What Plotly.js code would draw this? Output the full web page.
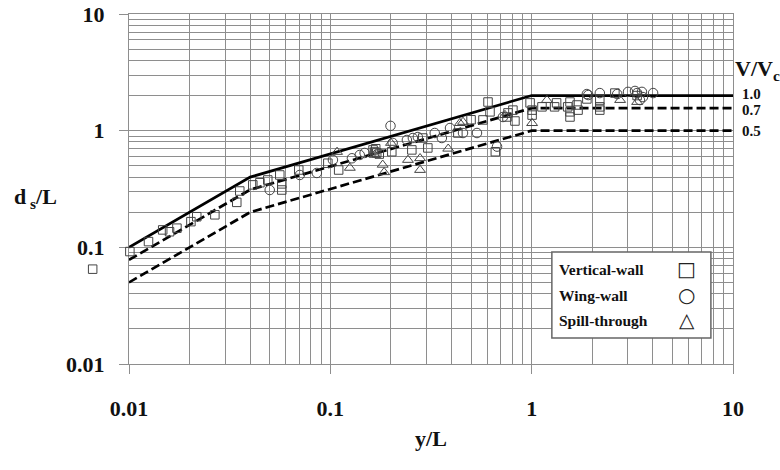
<!DOCTYPE html>
<html>
<head>
<meta charset="utf-8">
<script src="https://cdn.plot.ly/plotly-3.0.1.min.js"></script>
<style>html,body{margin:0;padding:0;background:#fff;}#chart{width:780px;height:470px;}</style>
</head>
<body>
<div id="chart"></div>
<script>
// Envelope curves (breakpoints in y/L)
const xBreaks = [0.01, 0.04, 1, 10];
const curve10 = [0.1, 0.4, 2, 2];
const curve07 = [0.078, 0.312, 1.56, 1.56];
const curve05 = [0.05, 0.2, 1, 1];
const curveLabels = ['1.0', '0.7', '0.5'];

// Vertical-wall (squares)
const vwX = [0.0066,0.0101,0.0125,0.0147,0.0159,0.0173,0.0203,0.0217,0.0267,0.0343,0.0355,0.0412,0.0447,0.0489,0.0561,0.0574,0.0574,0.0697,0.0972,0.110,0.163,0.166,0.170,0.175,0.168,0.202,0.254,0.288,0.305,0.43,0.50,0.573,0.607,0.621,0.66,0.754,0.763,0.807,0.826,0.982,1.005,1.005,1.125,1.30,1.33,1.51,1.55,1.55,1.55,1.68,1.70,1.88,2.18,2.18,2.18,2.59,3.34];
const vwY = [0.065,0.092,0.112,0.141,0.136,0.146,0.166,0.183,0.19,0.243,0.304,0.343,0.358,0.378,0.417,0.31,0.35,0.46,0.526,0.46,0.684,0.657,0.644,0.63,0.70,0.66,0.684,0.865,0.711,0.955,1.24,1.236,1.76,1.45,0.66,1.31,1.42,1.50,1.21,1.73,1.50,1.36,1.60,1.60,1.73,1.60,1.76,1.45,1.31,1.66,1.50,1.87,1.83,1.60,1.50,2.10,2.0];

// Wing-wall (circles)
const wwX = [0.050,0.0705,0.0857,0.103,0.128,0.140,0.148,0.199,0.204,0.240,0.257,0.272,0.330,0.358,0.393,0.456,0.535,0.673,0.72,1.88,1.91,2.18,2.66,3.01,3.26,3.34,3.45,3.53,3.57,4.01];
const wwY = [0.31,0.417,0.434,0.561,0.58,0.619,0.644,1.10,0.785,0.832,0.865,0.882,0.955,0.865,1.054,0.955,0.955,0.73,1.31,2.06,2.02,2.10,2.06,2.15,2.19,2.10,1.83,2.15,1.94,2.10];

// Spill-through (triangles)
const stX = [0.108,0.125,0.166,0.182,0.185,0.20,0.243,0.279,0.279,0.385,0.44,0.456,0.737,1.005,1.19,2.75,3.34];
const stY = [0.657,0.48,0.62,0.51,0.44,0.785,0.561,0.58,0.46,0.70,1.16,1.188,1.36,1.16,1.83,1.83,1.76];

const seriesNames = ['Vertical-wall', 'Wing-wall', 'Spill-through'];
const seriesGlyphs = ['\u25A1', '\u25CB', '\u25B3'];

const decades = [0.01, 0.1, 1, 10];
const decadeText = ['0.01', '0.1', '1', '10'];
const minorVals = [];
decades.slice(0, 3).forEach(d => { for (let k = 2; k <= 9; k++) minorVals.push(+(d * k).toPrecision(3)); });

const serif = 'Liberation Serif, Times New Roman, serif';
const grid = '#8e8e8e';
const mk = '#444';

// geometry: main axis domain starts inside a wider plotting strip so that the
// one square left of x = 0.01 can still be drawn on an invisible twin axis
const W = 780, H = 470, mL = 80, mR = 47, mT = 14, mB = 106;
const plotW = W - mL - mR;
const d0 = 49 / plotW;
const xRange = [-2, 1];
const pxPerDec = (1 - d0) * plotW / (xRange[1] - xRange[0]);
const x2Range = [xRange[0] - d0 * plotW / pxPerDec, xRange[1]];

const traces = [
  {x: xBreaks, y: curve10, mode: 'lines', line: {color: '#000', width: 2.7}, hoverinfo: 'skip'},
  {x: xBreaks, y: curve07, mode: 'lines', line: {color: '#000', width: 2.7, dash: '9px,4px'}, hoverinfo: 'skip'},
  {x: xBreaks, y: curve05, mode: 'lines', line: {color: '#000', width: 2.7, dash: '9px,4px'}, hoverinfo: 'skip'},
  {x: vwX, y: vwY, mode: 'markers', name: seriesNames[0], xaxis: 'x2', yaxis: 'y2', cliponaxis: false,
   marker: {symbol: 'square-open', size: 8.5, color: mk, line: {width: 1}}},
  {x: wwX, y: wwY, mode: 'markers', name: seriesNames[1],
   marker: {symbol: 'circle-open', size: 9.5, color: mk, line: {width: 1}}},
  {x: stX, y: stY, mode: 'markers', name: seriesNames[2],
   marker: {symbol: 'triangle-up-open', size: 9.5, color: mk, line: {width: 1}}}
];

const axisCommon = {
  type: 'log', tickmode: 'array', tickvals: decades, ticktext: decadeText,
  ticks: 'outside', ticklen: 9, tickcolor: grid, tickwidth: 1,
  showgrid: true, gridcolor: grid, gridwidth: 1,
  showline: true, linecolor: grid, linewidth: 1, mirror: true, zeroline: false,
  minor: {tickmode: 'array', tickvals: minorVals, showgrid: true, gridcolor: grid, gridwidth: 1, ticks: ''},
  tickfont: {family: serif, size: 22, color: '#111', weight: 700}
};

const legendBox = {x0: 0.7001, x1: 0.9634, y0: 0.0743, y1: 0.32};
const legendRows = [0.2714, 0.197, 0.1257];
const labelShift = [1.5, -1.5, 0];

const annotations = [
  {text: 'd<sub> s</sub>/L', xref: 'x domain', yref: 'y domain', x: -0.193, y: 0.474, xanchor: 'left', yanchor: 'middle',
   showarrow: false, font: {family: serif, size: 22, color: '#111', weight: 700}},
  {text: 'V/V<sub>c</sub>', xref: 'x domain', yref: 'y domain', x: 1, y: 0.84, xanchor: 'left', yanchor: 'middle',
   showarrow: false, font: {family: serif, size: 22, color: '#111', weight: 700}}
];
[curve10, curve07, curve05].forEach((c, i) => {
  annotations.push({text: curveLabels[i], xref: 'x domain', yref: 'y', x: 1, y: Math.log10(c[c.length - 1]),
    xanchor: 'left', yanchor: 'middle', xshift: 7, yshift: labelShift[i], showarrow: false,
    font: {family: serif, size: 15, color: '#111', weight: 700}});
});
seriesNames.forEach((n, i) => {
  annotations.push({text: n, xref: 'x domain', yref: 'y domain', x: 0.7085, y: legendRows[i], xanchor: 'left', yanchor: 'middle',
    showarrow: false, font: {family: serif, size: 15.5, color: '#111', weight: 700}});
  annotations.push({text: seriesGlyphs[i], xref: 'x domain', yref: 'y domain', x: 0.9234, y: legendRows[i], xanchor: 'center', yanchor: 'middle',
    showarrow: false, font: {family: 'DejaVu Sans', size: 20, color: '#222'}});
});

const layout = {
  width: W, height: H,
  margin: {l: mL, r: mR, t: mT, b: mB},
  paper_bgcolor: '#fff', plot_bgcolor: 'rgba(0,0,0,0)',
  showlegend: false,
  xaxis: Object.assign({}, axisCommon, {range: xRange, domain: [d0, 1], anchor: 'y', ticklabelstandoff: 16,
    title: {text: 'y/L', font: {family: serif, size: 22, color: '#111', weight: 700}, standoff: 10}}),
  yaxis: Object.assign({}, axisCommon, {range: [-2, 1], anchor: 'x', ticklabelstandoff: 10}),
  xaxis2: {type: 'log', range: x2Range, domain: [0, 1], anchor: 'y2', visible: false, showgrid: false, zeroline: false},
  yaxis2: {type: 'log', range: [-2, 1], domain: [0, 1], anchor: 'x2', visible: false, showgrid: false, zeroline: false},
  shapes: [{type: 'rect', xref: 'x domain', yref: 'y domain', x0: legendBox.x0, x1: legendBox.x1, y0: legendBox.y0, y1: legendBox.y1,
    line: {color: '#666', width: 1.5}, fillcolor: '#fff', layer: 'above'}],
  annotations: annotations
};

Plotly.newPlot('chart', traces, layout, {displayModeBar: false, staticPlot: true});
</script>
</body>
</html>
